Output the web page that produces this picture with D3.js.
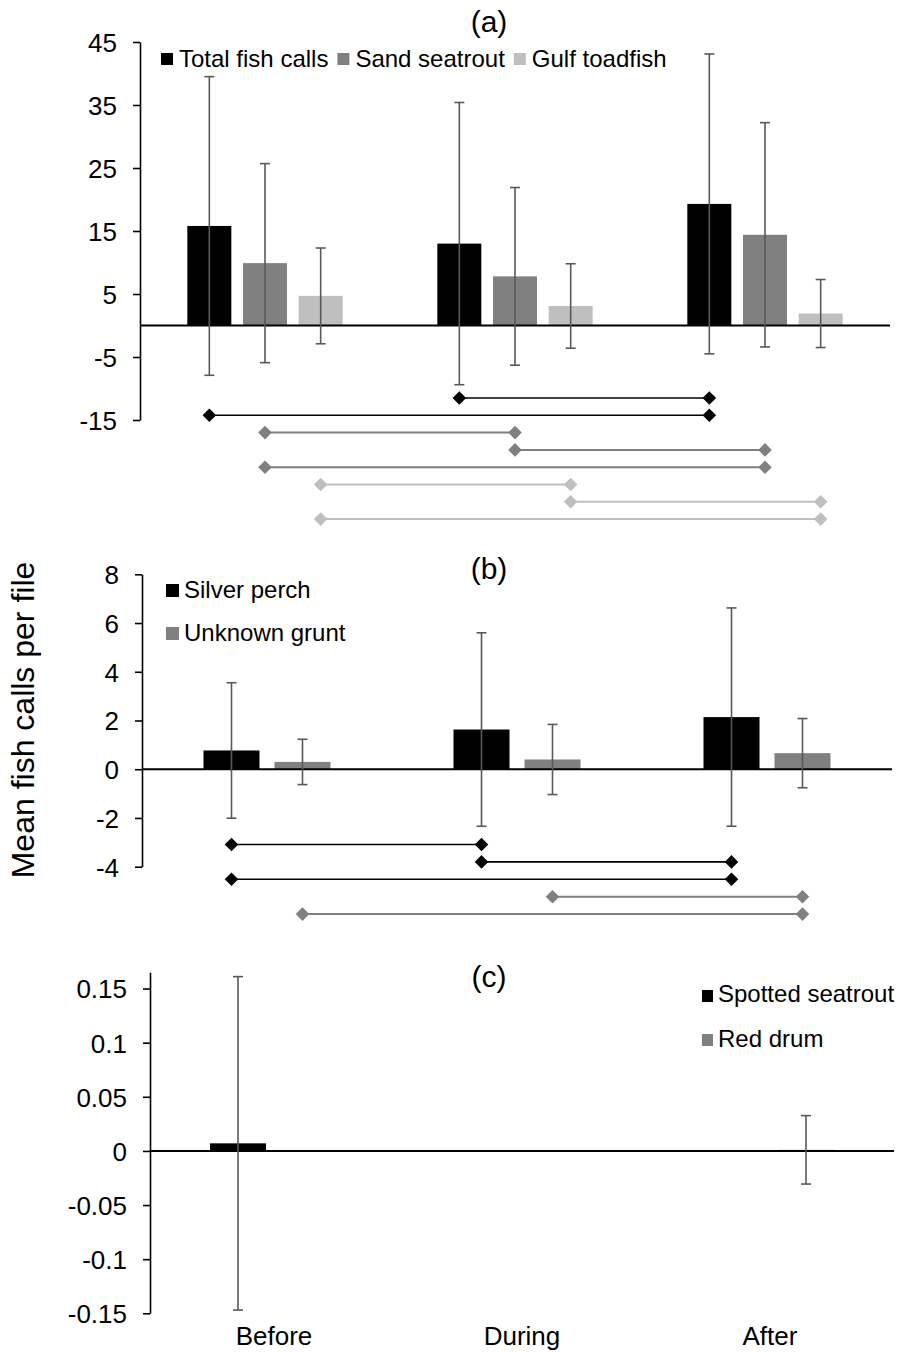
<!DOCTYPE html>
<html>
<head>
<meta charset="utf-8">
<script src="https://cdn.jsdelivr.net/npm/d3@7"></script>
<style>
body{margin:0;background:#fff;}
text{font-family:"Liberation Sans",Arial,sans-serif;fill:#000;}
</style>
</head>
<body>
<script>
// categories
var groups=["Before","During","After"];

// panel (a)
var seriesA=["Total fish calls","Sand seatrout","Gulf toadfish"];
var totalMean=[15.8,13.0,19.3];
var totalSD=[23.7,22.4,23.8];
var sandMean=[9.9,7.8,14.4];
var sandSD=[15.8,14.1,17.8];
var gulfMean=[4.7,3.1,1.9];
var gulfSD=[7.6,6.7,5.4];
var ticksA=[-15,-5,5,15,25,35,45];
// significant pairs: [series index, from, to]
var bracketsA=[[0,"During","After"],[0,"Before","After"],[1,"Before","During"],[1,"During","After"],[1,"Before","After"],[2,"Before","During"],[2,"During","After"],[2,"Before","After"]];

// panel (b)
var seriesB=["Silver perch","Unknown grunt"];
var silverMean=[0.77,1.63,2.14];
var silverSD=[2.78,3.97,4.48];
var gruntMean=[0.30,0.40,0.66];
var gruntSD=[0.93,1.44,1.42];
var ticksB=[-4,-2,0,2,4,6,8];
var bracketsB=[[0,"Before","During"],[0,"During","After"],[0,"Before","After"],[1,"During","After"],[1,"Before","After"]];

// panel (c)
var seriesC=["Spotted seatrout","Red drum"];
var spottedMean=[0.007,0,0];
var spottedSD=[0.154,0,0];
var redMean=[0,0,0.001];
var redSD=[0,0,0.0316];
var ticksC=[-0.15,-0.1,-0.05,0,0.05,0.1,0.15];

var svg=d3.select("body").append("svg").attr("width",901).attr("height",1352);

function fmt(d){return String(Math.round(d*100)/100);}

function drawPanel(p){
	var g=svg.append("g");
	var x0=d3.scaleBand().domain(groups).range(p.xRange);
	var x1=d3.scaleBand().domain(p.series).range([-p.half,p.half]);
	var y=d3.scaleLinear().domain(p.yDomain).range(p.yRange);
	function cx(s,grp){return x0(grp)+x0.bandwidth()/2+x1(s)+x1.bandwidth()/2;}

	// bars
	p.series.forEach(function(s,i){
		var rows=groups.map(function(grp,j){return {g:grp,m:p.means[i][j],sd:p.sds[i][j]};});
		g.selectAll(null).data(rows).enter().append("rect")
			.attr("x",function(d){return cx(s,d.g)-p.barW/2;})
			.attr("y",function(d){return y(Math.max(0,d.m));})
			.attr("width",p.barW)
			.attr("height",function(d){return Math.abs(y(d.m)-y(0));})
			.attr("fill",p.colors[i]);
	});

	// zero line
	g.append("line").attr("x1",p.xRange[0]).attr("x2",p.xRange[1])
		.attr("y1",y(0)).attr("y2",y(0)).attr("stroke","#000").attr("stroke-width",2);

	// error bars
	p.series.forEach(function(s,i){
		var rows=groups.map(function(grp,j){return {g:grp,m:p.means[i][j],sd:p.sds[i][j]};})
			.filter(function(d){return d.sd>0;});
		var eb=g.selectAll(null).data(rows).enter().append("g")
			.attr("stroke","#595959").attr("stroke-width",1.6);
		eb.append("line").attr("x1",function(d){return cx(s,d.g);}).attr("x2",function(d){return cx(s,d.g);})
			.attr("y1",function(d){return y(d.m+d.sd);}).attr("y2",function(d){return y(d.m-d.sd);});
		[1,-1].forEach(function(k){
			eb.append("line").attr("x1",function(d){return cx(s,d.g)-5;}).attr("x2",function(d){return cx(s,d.g)+5;})
				.attr("y1",function(d){return y(d.m+k*d.sd);}).attr("y2",function(d){return y(d.m+k*d.sd);});
		});
	});

	// y axis
	var ax=g.append("g").attr("transform","translate("+p.xRange[0]+",0)")
		.call(d3.axisLeft(y).tickValues(p.ticks).tickSize(7).tickSizeOuter(0).tickPadding(16).tickFormat(fmt));
	ax.select(".domain").attr("stroke","#000").attr("stroke-width",1.6);
	ax.selectAll(".tick line").attr("stroke","#000").attr("stroke-width",1.6);
	ax.selectAll(".tick text").style("font-size","26px").attr("fill","#000").attr("dy","0.36em");

	// significance brackets
	if(p.brackets){
		p.brackets.forEach(function(b,k){
			var yy=p.bY0+k*p.bStep;
			var s=p.series[b[0]];
			var xa=cx(s,b[1]),xb=cx(s,b[2]);
			var col=p.bColors[b[0]];
			g.append("line").attr("x1",xa).attr("x2",xb).attr("y1",yy).attr("y2",yy)
				.attr("stroke",col).attr("stroke-width",p.bWidth[b[0]]);
			[xa,xb].forEach(function(xx){
				g.append("path").attr("d",d3.symbol(d3.symbolSquare,92)())
					.attr("transform","translate("+xx+","+yy+") rotate(45)")
					.attr("fill",col);
			});
		});
	}

	// title
	g.append("text").attr("x",489).attr("y",p.titleY).attr("text-anchor","middle")
		.style("font-size","30px").text(p.title);
	return {x0:x0,y:y};
}

var colA=["#000000","#808080","#bfbfbf"];
drawPanel({series:seriesA,means:[totalMean,sandMean,gulfMean],sds:[totalSD,sandSD,gulfSD],
	colors:colA,xRange:[140,890],half:83.5,barW:44,yDomain:[-15,45],yRange:[420,42],ticks:ticksA,
	brackets:bracketsA,bY0:398,bStep:17.3,bColors:["#000000","#808080","#bfbfbf"],bWidth:[1.6,2,2],
	title:"(a)",titleY:32});

drawPanel({series:seriesB,means:[silverMean,gruntMean],sds:[silverSD,gruntSD],
	colors:["#000000","#808080"],xRange:[142,892],half:71,barW:56,yDomain:[-4,8],yRange:[866.7,574.3],ticks:ticksB,
	brackets:bracketsB,bY0:844.5,bStep:17.4,bColors:["#000000","#808080"],bWidth:[1.6,2],
	title:"(b)",titleY:579});

var pc=drawPanel({series:seriesC,means:[spottedMean,redMean],sds:[spottedSD,redSD],
	colors:["#000000","#808080"],xRange:[150,894],half:72,barW:56,yDomain:[-0.15,0.165],yRange:[1313.3,972.3],ticks:ticksC,
	title:"(c)",titleY:987});

// category labels
svg.selectAll(null).data(groups).enter().append("text")
	.attr("x",function(d){return pc.x0(d)+pc.x0.bandwidth()/2;})
	.attr("y",1345).attr("text-anchor","middle").style("font-size","26px")
	.text(function(d){return d;});

// legend (a), in a row
var lx=161;
seriesA.forEach(function(s,i){
	svg.append("rect").attr("x",lx).attr("y",53).attr("width",12).attr("height",12).attr("fill",colA[i]);
	var t=svg.append("text").attr("x",lx+18).attr("y",67).style("font-size","24px").text(s);
	lx+=18+t.node().getComputedTextLength()+9;
});

// legend (b), stacked
seriesB.forEach(function(s,i){
	svg.append("rect").attr("x",166).attr("y",584+i*43).attr("width",13).attr("height",13).attr("fill",["#000000","#808080"][i]);
	svg.append("text").attr("x",184).attr("y",598+i*43).style("font-size","24px").text(s);
});

// legend (c), stacked
seriesC.forEach(function(s,i){
	svg.append("rect").attr("x",702).attr("y",990+i*44).attr("width",11).attr("height",12).attr("fill",["#000000","#808080"][i]);
	svg.append("text").attr("x",718).attr("y",1002+i*45).style("font-size","24px").text(s);
});

// y axis title
svg.append("text").attr("transform","translate(34,720) rotate(-90)").attr("text-anchor","middle")
	.style("font-size","32px").text("Mean fish calls per file");
</script>
</body>
</html>
